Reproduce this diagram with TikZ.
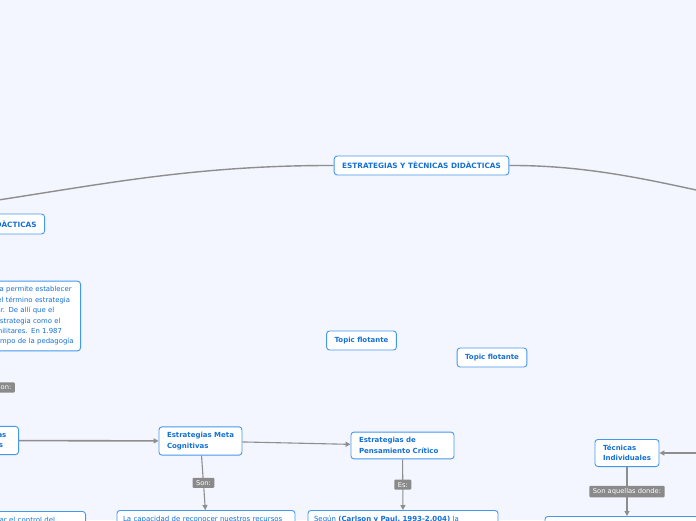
\documentclass[tikz,border=0pt]{standalone}
\usepackage{fontspec}
\setmainfont{DejaVu Sans}
\usetikzlibrary{arrows.meta}
\definecolor{bgcol}{HTML}{F3F6FE}
\definecolor{topicblue}{HTML}{1570D6}
\definecolor{edgeblue}{HTML}{4597EE}
\definecolor{linegray}{HTML}{8E8E8E}
\definecolor{labgray}{HTML}{8A8A8A}
\tikzset{
  topic/.style = {draw=edgeblue, line width=0.9pt, rounded corners=3pt, fill=white,
                  align=left, inner xsep=8pt, inner ysep=5.5pt, text=topicblue,
                  font=\fontsize{7}{10.4}\selectfont\bfseries},
  note/.style  = {topic, anchor=north, inner xsep=6pt, font=\fontsize{7}{10.4}\selectfont},
  lab/.style   = {fill=labgray, rounded corners=1pt, text=white, inner xsep=3.5pt,
                  inner ysep=2.5pt, font=\fontsize{6.7}{7}\selectfont},
  con/.style   = {draw=linegray, line width=1.1pt},
  arr/.style   = {con, -{Triangle[length=5pt,width=5pt]}},
}

\begin{document}
\begin{tikzpicture}[x=1pt,y=-1pt]
  \fill[bgcol] (0,0) rectangle (696,520);
  \useasboundingbox (0,0) rectangle (696,520);

  % central topic and main branches
  \node[topic, minimum height=19pt, font=\fontsize{7.3}{10.4}\selectfont\bfseries] (main) at (421.5,165.5) {ESTRATEGIAS Y TÈCNICAS DIDÀCTICAS};
  \node[topic, minimum height=20pt, anchor=east, font=\fontsize{7.3}{10.4}\selectfont\bfseries] (did) at (45,224) {ESTRATEGIAS DIDÀCTICAS};
  \coordinate (lft) at (-120,215);
  \coordinate (rgt) at (820,215);
  \coordinate (rin) at (720,453);

  \node[note, anchor=east, inner xsep=7pt, text width=144pt, font=\fontsize{6.9}{10.4}\selectfont] (intro) at (81,316)
    {Conocer la estrategia permite establecer\\
     que el origen real del término estrategia\\
     proviene de lo militar. De allí que el\\
     se ha definido a la estrategia como el\\
     arte de maniobras militares. En 1.987\\
     se introdujo en el campo de la pedagogía};
  \node[lab, anchor=east] (son0) at (15,387.5) {Son:};

  % strategies row
  \node[topic, anchor=east, text width=49pt] (cog) at (19,440.5) {Estrategias\\Cognitivas};
  \node[topic, text width=67pt] (meta) at (200.5,441) {Estrategias Meta\\Cognitivas};
  \node[topic, text width=87pt] (pens) at (402.5,445.5) {Estrategias de\\Pensamiento Crítico};
  \node[topic] (tec) at (627,453) {Técnicas\\Individuales};

  \node[topic, minimum height=19pt] (flot1) at (361.5,340.5) {Topic flotante};
  \node[topic, minimum height=19pt] (flot2) at (492,357.5) {Topic flotante};

  % descriptions
  \node[note, anchor=north east, text width=163pt] (ctrl) at (86,511) {Permiten al alumno llevar el control del};
  \node[note, text width=166pt] (capac) at (206,510) {La capacidad de reconocer nuestros recursos};
  \node[note, text width=178pt] (segun) at (403,510) {Según \textbf{(Carlson y Paul, 1993-2.004)} la};
  \node[note, minimum width=164pt, minimum height=30pt] (aqu) at (627,516) {};

  \draw[con, line width=1.4pt] (main.west) .. controls (150,165) and (40,200) .. (lft);
  \draw[con, line width=1.4pt] (main.east) .. controls (620,165) and (700,195) .. (rgt);
  \draw[arr, line width=1.6pt] (cog) -- (meta);
  \draw[arr] (meta) -- (pens);
  \draw[arr] (meta) -- node[lab] {Son:} (capac);
  \draw[arr] (pens) -- node[lab] {Es:} (segun);
  \draw[arr] (rin) -- (tec);
  \draw[arr] (tec) -- node[lab] {Son aquellas donde:} (aqu);
\end{tikzpicture}
\end{document}
